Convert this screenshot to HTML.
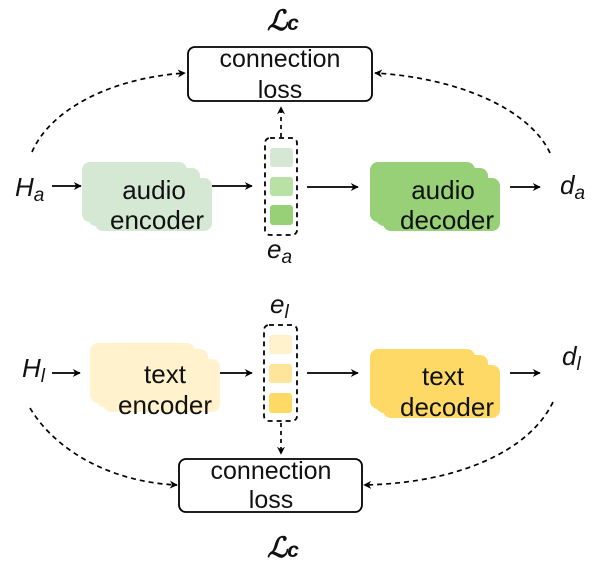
<!DOCTYPE html>
<html><head><meta charset="utf-8"><style>
html,body{margin:0;padding:0;background:#fff;}
svg{display:block;}
text{font-family:"Liberation Sans",Arial,sans-serif;fill:#111;}
</style></head><body>
<svg width="606" height="569" viewBox="0 0 606 569" xmlns="http://www.w3.org/2000/svg">
<defs>
<marker id="a" viewBox="0 0 10 10" refX="9" refY="5" markerWidth="9" markerHeight="8" orient="auto" markerUnits="userSpaceOnUse">
<path d="M0,0 L10,5 L0,10 L3,5 Z" fill="#000"/>
</marker>
</defs>

<text x="283" y="30" font-size="28" text-anchor="middle" style="font-family:'DejaVu Serif',serif;font-style:italic;font-weight:bold">ℒ<tspan font-size="21" style="font-family:'Liberation Sans',sans-serif">c</tspan></text>

<rect x="188" y="47" width="184" height="54" rx="7" fill="#fff" stroke="#000" stroke-width="1.8"/>
<text x="280" y="67" font-size="25" text-anchor="middle">connection</text>
<text x="280" y="98" font-size="25" text-anchor="middle">loss</text>

<path d="M32,152 C50,110 110,78 185,73" fill="none" stroke="#000" stroke-width="1.7" stroke-dasharray="5,4" marker-end="url(#a)"/>
<path d="M550,153 C530,110 460,78 375,73" fill="none" stroke="#000" stroke-width="1.7" stroke-dasharray="5,4" marker-end="url(#a)"/>
<path d="M281,137 L281,107" fill="none" stroke="#000" stroke-width="1.7" stroke-dasharray="4,4" marker-end="url(#a)"/>

<text x="15" y="196" font-size="26" font-style="italic">H<tspan font-size="19" dy="5">a</tspan></text>
<line x1="52" y1="186" x2="81" y2="186" stroke="#000" stroke-width="1.8" marker-end="url(#a)"/>
<g fill="#d5e8d4">
<rect x="82" y="162" width="105" height="60" rx="8"/>
<rect x="88" y="168" width="112" height="58" rx="8"/>
<rect x="95" y="178" width="117" height="53" rx="8"/>
</g>
<text x="154" y="199" font-size="26" text-anchor="middle">audio</text>
<text x="157" y="229" font-size="26" text-anchor="middle">encoder</text>
<line x1="212" y1="186" x2="252" y2="186" stroke="#000" stroke-width="1.8" marker-end="url(#a)"/>

<rect x="265" y="138" width="32" height="97" rx="5" fill="none" stroke="#000" stroke-width="1.8" stroke-dasharray="5,4"/>
<rect x="270" y="148" width="23" height="19" rx="3" fill="#d5e8d4"/>
<rect x="270" y="177" width="23" height="19" rx="3" fill="#b9e0a5"/>
<rect x="270" y="205" width="23" height="20" rx="3" fill="#97d077"/>
<text x="267" y="258" font-size="26" font-style="italic">e<tspan font-size="19" dy="5">a</tspan></text>

<line x1="307" y1="187" x2="358" y2="187" stroke="#000" stroke-width="1.8" marker-end="url(#a)"/>
<g fill="#97d077">
<rect x="370" y="162" width="105" height="60" rx="8"/>
<rect x="376" y="168" width="112" height="58" rx="8"/>
<rect x="383" y="178" width="117" height="53" rx="8"/>
</g>
<text x="443" y="199" font-size="26" text-anchor="middle">audio</text>
<text x="447" y="229" font-size="26" text-anchor="middle">decoder</text>
<line x1="510" y1="187" x2="540" y2="187" stroke="#000" stroke-width="1.8" marker-end="url(#a)"/>
<text x="560" y="194" font-size="26" font-style="italic">d<tspan font-size="19" dy="5">a</tspan></text>

<text x="22" y="377" font-size="26" font-style="italic">H<tspan font-size="19" dy="5">l</tspan></text>
<line x1="52" y1="373" x2="80" y2="373" stroke="#000" stroke-width="1.8" marker-end="url(#a)"/>
<g fill="#fff2cc">
<rect x="90" y="343" width="105" height="60" rx="8"/>
<rect x="96" y="349" width="112" height="58" rx="8"/>
<rect x="103" y="359" width="117" height="53" rx="8"/>
</g>
<text x="165" y="383" font-size="26" text-anchor="middle">text</text>
<text x="165" y="414" font-size="26" text-anchor="middle">encoder</text>
<line x1="220" y1="373" x2="252" y2="373" stroke="#000" stroke-width="1.8" marker-end="url(#a)"/>

<text x="270" y="313" font-size="26" font-style="italic">e<tspan font-size="19" dy="5">l</tspan></text>
<rect x="264" y="325" width="33" height="96" rx="5" fill="none" stroke="#000" stroke-width="1.8" stroke-dasharray="5,4"/>
<rect x="269" y="335" width="23" height="19" rx="3" fill="#fff2cc"/>
<rect x="269" y="364" width="23" height="19" rx="3" fill="#ffe599"/>
<rect x="269" y="393" width="23" height="20" rx="3" fill="#ffd966"/>
<path d="M281,423 L281,454" fill="none" stroke="#000" stroke-width="1.7" stroke-dasharray="4,4" marker-end="url(#a)"/>

<line x1="307" y1="373" x2="358" y2="373" stroke="#000" stroke-width="1.8" marker-end="url(#a)"/>
<g fill="#ffd966">
<rect x="370" y="349" width="105" height="60" rx="8"/>
<rect x="376" y="355" width="112" height="58" rx="8"/>
<rect x="383" y="365" width="117" height="53" rx="8"/>
</g>
<text x="443" y="385" font-size="26" text-anchor="middle">text</text>
<text x="447" y="416" font-size="26" text-anchor="middle">decoder</text>
<line x1="510" y1="373" x2="540" y2="373" stroke="#000" stroke-width="1.8" marker-end="url(#a)"/>
<text x="562" y="365" font-size="26" font-style="italic">d<tspan font-size="19" dy="5">l</tspan></text>

<path d="M30,408 C55,450 110,482 177,485" fill="none" stroke="#000" stroke-width="1.7" stroke-dasharray="5,4" marker-end="url(#a)"/>
<path d="M553,402 C530,450 460,483 364,485" fill="none" stroke="#000" stroke-width="1.7" stroke-dasharray="5,4" marker-end="url(#a)"/>

<rect x="179" y="459" width="183" height="53" rx="7" fill="#fff" stroke="#000" stroke-width="1.8"/>
<text x="271" y="479" font-size="25" text-anchor="middle">connection</text>
<text x="271" y="508" font-size="25" text-anchor="middle">loss</text>

<text x="283" y="557" font-size="28" text-anchor="middle" style="font-family:'DejaVu Serif',serif;font-style:italic;font-weight:bold">ℒ<tspan font-size="21" style="font-family:'Liberation Sans',sans-serif">c</tspan></text>
</svg>
</body></html>
